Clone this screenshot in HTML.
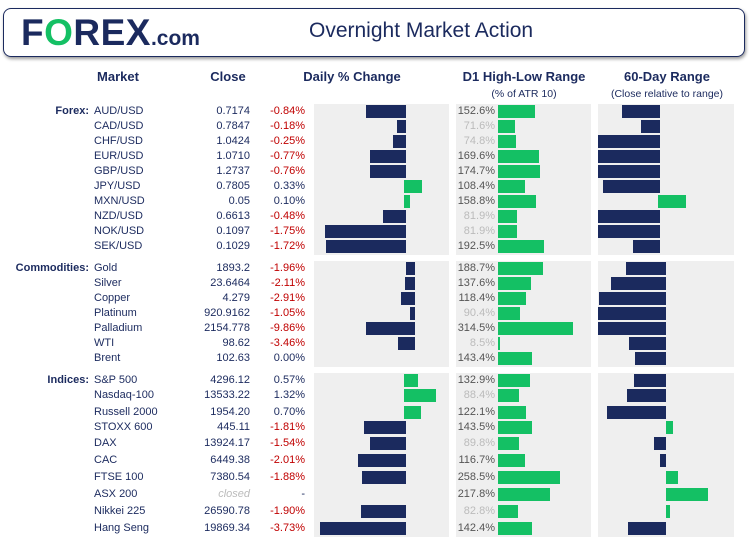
<!DOCTYPE html>
<html><head><meta charset="utf-8"><style>
body{margin:0;width:749px;height:549px;background:#fff;position:relative;overflow:hidden;font-family:"Liberation Sans",sans-serif;color:#1b2a5e}
.hdr{position:absolute;left:3px;top:8px;width:740px;height:47px;border:1.5px solid #1b2a5e;border-radius:8px;box-shadow:1px 2px 3px #999}
.logo{position:absolute;left:21px;top:12px;font-weight:bold;font-size:37px;color:#1b2a5e;letter-spacing:0.5px}
.logo i{font-style:normal;color:#14c064}
.logo small{font-size:21px;letter-spacing:0}
.title{position:absolute;left:309px;top:19px;font-size:21px;color:#1b2a5e}
.h{position:absolute;font-weight:bold;font-size:13px;top:69px;text-align:center}
.sh{position:absolute;font-size:10.5px;top:88px;text-align:center}
.pan{position:absolute;background:#efefef}
.r{position:absolute;left:0;width:749px;height:15px;font-size:11px;line-height:15px}
.r span{position:absolute;white-space:nowrap}
.s{right:660px;font-weight:bold}
.m{left:94px}
.c{right:499px}
.p{right:444px;color:#c00000}
.p.g{color:#1b2a5e}
.d{left:455px;width:40px;text-align:right;color:#555}
.d.l{color:#bbb}
.b{position:absolute;top:1px;height:13px;background:#1b2a5e}
.gr{background:#14c064}
</style></head><body>
<div class="hdr"></div>
<div class="logo">F<i>O</i>REX<small>.com</small></div>
<div class="title">Overnight Market Action</div>
<div class="h" style="left:78px;width:80px">Market</div>
<div class="h" style="left:198px;width:60px">Close</div>
<div class="h" style="left:292px;width:120px">Daily % Change</div>
<div class="h" style="left:454px;width:140px">D1 High-Low Range</div>
<div class="h" style="left:597px;width:140px">60-Day Range</div>
<div class="sh" style="left:454px;width:140px">(% of ATR 10)</div>
<div class="sh" style="left:592px;width:150px">(Close relative to range)</div>

<div class="pan" style="left:314px;top:104px;width:135px;height:151px"></div>
<div class="pan" style="left:456px;top:104px;width:135px;height:151px"></div>
<div class="pan" style="left:598px;top:104px;width:136px;height:151px"></div>
<div class="pan" style="left:314px;top:261px;width:135px;height:106px"></div>
<div class="pan" style="left:456px;top:261px;width:135px;height:106px"></div>
<div class="pan" style="left:598px;top:261px;width:136px;height:106px"></div>
<div class="pan" style="left:314px;top:373px;width:135px;height:164px"></div>
<div class="pan" style="left:456px;top:373px;width:135px;height:164px"></div>
<div class="pan" style="left:598px;top:373px;width:136px;height:164px"></div>

<!-- Forex -->
<div class="r" style="top:104px"><span class="s">Forex:</span><span class="m">AUD/USD</span><span class="c">0.7174</span><span class="p">-0.84%</span><div class="b" style="left:366px;width:40px"></div><span class="d">152.6%</span><div class="b gr" style="left:498px;width:37px"></div><div class="b" style="left:622px;width:38px"></div></div>
<div class="r" style="top:119px"><span class="m">CAD/USD</span><span class="c">0.7847</span><span class="p">-0.18%</span><div class="b" style="left:397px;width:9px"></div><span class="d l">71.6%</span><div class="b gr" style="left:498px;width:17px"></div><div class="b" style="left:641px;width:19px"></div></div>
<div class="r" style="top:134px"><span class="m">CHF/USD</span><span class="c">1.0424</span><span class="p">-0.25%</span><div class="b" style="left:393px;width:13px"></div><span class="d l">74.8%</span><div class="b gr" style="left:498px;width:18px"></div><div class="b" style="left:598px;width:62px"></div></div>
<div class="r" style="top:149px"><span class="m">EUR/USD</span><span class="c">1.0710</span><span class="p">-0.77%</span><div class="b" style="left:370px;width:36px"></div><span class="d">169.6%</span><div class="b gr" style="left:498px;width:41px"></div><div class="b" style="left:598px;width:62px"></div></div>
<div class="r" style="top:164px"><span class="m">GBP/USD</span><span class="c">1.2737</span><span class="p">-0.76%</span><div class="b" style="left:370px;width:36px"></div><span class="d">174.7%</span><div class="b gr" style="left:498px;width:42px"></div><div class="b" style="left:598px;width:62px"></div></div>
<div class="r" style="top:179px"><span class="m">JPY/USD</span><span class="c">0.7805</span><span class="p g">0.33%</span><div class="b gr" style="left:404px;width:18px"></div><span class="d">108.4%</span><div class="b gr" style="left:498px;width:27px"></div><div class="b" style="left:603px;width:57px"></div></div>
<div class="r" style="top:194px"><span class="m">MXN/USD</span><span class="c">0.05</span><span class="p g">0.10%</span><div class="b gr" style="left:404px;width:6px"></div><span class="d">158.8%</span><div class="b gr" style="left:498px;width:38px"></div><div class="b gr" style="left:658px;width:28px"></div></div>
<div class="r" style="top:209px"><span class="m">NZD/USD</span><span class="c">0.6613</span><span class="p">-0.48%</span><div class="b" style="left:383px;width:23px"></div><span class="d l">81.9%</span><div class="b gr" style="left:498px;width:19px"></div><div class="b" style="left:598px;width:62px"></div></div>
<div class="r" style="top:224px"><span class="m">NOK/USD</span><span class="c">0.1097</span><span class="p">-1.75%</span><div class="b" style="left:325px;width:81px"></div><span class="d l">81.9%</span><div class="b gr" style="left:498px;width:19px"></div><div class="b" style="left:598px;width:62px"></div></div>
<div class="r" style="top:239px"><span class="m">SEK/USD</span><span class="c">0.1029</span><span class="p">-1.72%</span><div class="b" style="left:326px;width:80px"></div><span class="d">192.5%</span><div class="b gr" style="left:498px;width:46px"></div><div class="b" style="left:633px;width:27px"></div></div>

<!-- Commodities -->
<div class="r" style="top:261px"><span class="s">Commodities:</span><span class="m">Gold</span><span class="c">1893.2</span><span class="p">-1.96%</span><div class="b" style="left:406px;width:9px"></div><span class="d">188.7%</span><div class="b gr" style="left:498px;width:45px"></div><div class="b" style="left:626px;width:40px"></div></div>
<div class="r" style="top:276px"><span class="m">Silver</span><span class="c">23.6464</span><span class="p">-2.11%</span><div class="b" style="left:405px;width:10px"></div><span class="d">137.6%</span><div class="b gr" style="left:498px;width:33px"></div><div class="b" style="left:611px;width:55px"></div></div>
<div class="r" style="top:291px"><span class="m">Copper</span><span class="c">4.279</span><span class="p">-2.91%</span><div class="b" style="left:401px;width:14px"></div><span class="d">118.4%</span><div class="b gr" style="left:498px;width:28px"></div><div class="b" style="left:599px;width:67px"></div></div>
<div class="r" style="top:306px"><span class="m">Platinum</span><span class="c">920.9162</span><span class="p">-1.05%</span><div class="b" style="left:410px;width:5px"></div><span class="d l">90.4%</span><div class="b gr" style="left:498px;width:22px"></div><div class="b" style="left:598px;width:68px"></div></div>
<div class="r" style="top:321px"><span class="m">Palladium</span><span class="c">2154.778</span><span class="p">-9.86%</span><div class="b" style="left:366px;width:49px"></div><span class="d">314.5%</span><div class="b gr" style="left:498px;width:75px"></div><div class="b" style="left:598px;width:68px"></div></div>
<div class="r" style="top:336px"><span class="m">WTI</span><span class="c">98.62</span><span class="p">-3.46%</span><div class="b" style="left:398px;width:17px"></div><span class="d l">8.5%</span><div class="b gr" style="left:498px;width:2px"></div><div class="b" style="left:629px;width:37px"></div></div>
<div class="r" style="top:351px"><span class="m">Brent</span><span class="c">102.63</span><span class="p g">0.00%</span><span class="d">143.4%</span><div class="b gr" style="left:498px;width:34px"></div><div class="b" style="left:635px;width:31px"></div></div>

<!-- Indices -->
<div class="r" style="top:373px"><span class="s">Indices:</span><span class="m">S&amp;P 500</span><span class="c">4296.12</span><span class="p g">0.57%</span><div class="b gr" style="left:404px;width:14px"></div><span class="d">132.9%</span><div class="b gr" style="left:498px;width:32px"></div><div class="b" style="left:634px;width:32px"></div></div>
<div class="r" style="top:388px"><span class="m">Nasdaq-100</span><span class="c">13533.22</span><span class="p g">1.32%</span><div class="b gr" style="left:404px;width:32px"></div><span class="d l">88.4%</span><div class="b gr" style="left:498px;width:21px"></div><div class="b" style="left:627px;width:39px"></div></div>
<div class="r" style="top:405px"><span class="m">Russell 2000</span><span class="c">1954.20</span><span class="p g">0.70%</span><div class="b gr" style="left:404px;width:17px"></div><span class="d">122.1%</span><div class="b gr" style="left:498px;width:28px"></div><div class="b" style="left:607px;width:59px"></div></div>
<div class="r" style="top:420px"><span class="m">STOXX 600</span><span class="c">445.11</span><span class="p">-1.81%</span><div class="b" style="left:364px;width:42px"></div><span class="d">143.5%</span><div class="b gr" style="left:498px;width:34px"></div><div class="b gr" style="left:666px;width:7px"></div></div>
<div class="r" style="top:436px"><span class="m">DAX</span><span class="c">13924.17</span><span class="p">-1.54%</span><div class="b" style="left:370px;width:36px"></div><span class="d l">89.8%</span><div class="b gr" style="left:498px;width:21px"></div><div class="b" style="left:654px;width:12px"></div></div>
<div class="r" style="top:453px"><span class="m">CAC</span><span class="c">6449.38</span><span class="p">-2.01%</span><div class="b" style="left:358px;width:48px"></div><span class="d">116.7%</span><div class="b gr" style="left:498px;width:27px"></div><div class="b" style="left:660px;width:6px"></div></div>
<div class="r" style="top:470px"><span class="m">FTSE 100</span><span class="c">7380.54</span><span class="p">-1.88%</span><div class="b" style="left:362px;width:44px"></div><span class="d">258.5%</span><div class="b gr" style="left:498px;width:62px"></div><div class="b gr" style="left:666px;width:12px"></div></div>
<div class="r" style="top:487px"><span class="m">ASX 200</span><span class="c" style="color:#bbb;font-style:italic">closed</span><span class="p g">-</span><span class="d">217.8%</span><div class="b gr" style="left:498px;width:52px"></div><div class="b gr" style="left:666px;width:42px"></div></div>
<div class="r" style="top:504px"><span class="m">Nikkei 225</span><span class="c">26590.78</span><span class="p">-1.90%</span><div class="b" style="left:361px;width:45px"></div><span class="d l">82.8%</span><div class="b gr" style="left:498px;width:20px"></div><div class="b gr" style="left:666px;width:4px"></div></div>
<div class="r" style="top:521px"><span class="m">Hang Seng</span><span class="c">19869.34</span><span class="p">-3.73%</span><div class="b" style="left:320px;width:86px"></div><span class="d">142.4%</span><div class="b gr" style="left:498px;width:34px"></div><div class="b" style="left:628px;width:38px"></div></div>
</body></html>
